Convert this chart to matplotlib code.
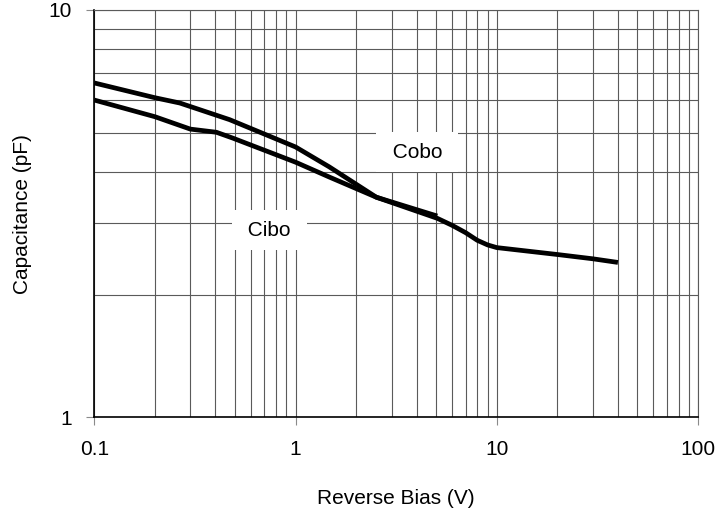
import matplotlib.pyplot as plt
from matplotlib.ticker import FixedLocator, NullFormatter, FuncFormatter

plt.rcParams['font.family'] = ['Liberation Sans', 'DejaVu Sans']

# Capacitance vs reverse bias
cobo_v = [0.1, 0.2, 0.266, 0.47, 1.0, 1.47, 2.52, 5.06, 6.0, 7.0, 8.0, 9.0, 10.0, 20.0, 30.0, 40.0]
cobo_pf = [6.62, 6.09, 5.91, 5.38, 4.61, 4.12, 3.47, 3.08, 2.96, 2.84, 2.72, 2.65, 2.61, 2.51, 2.45, 2.40]

cibo_v = [0.1, 0.2, 0.3, 0.404, 0.486, 1.0, 1.47, 2.52, 5.06]
cibo_pf = [6.01, 5.47, 5.10, 5.01, 4.85, 4.23, 3.89, 3.47, 3.12]

x_ticks = [0.1, 1, 10, 100]
y_ticks = [1, 10]

fig = plt.figure(figsize=(7.19, 5.15), dpi=100)
ax = fig.add_axes([0.1312, 0.1897, 0.8396, 0.7909])

ax.plot(cobo_v, cobo_pf, color="black", lw=3.4, solid_capstyle="butt", zorder=3)
ax.plot(cibo_v, cibo_pf, color="black", lw=3.4, solid_capstyle="butt", zorder=3)

ax.set_xscale("log")
ax.set_yscale("log")
ax.set_xlim(0.1, 100)
ax.set_ylim(1, 10)

ax.xaxis.set_major_locator(FixedLocator(x_ticks))
ax.yaxis.set_major_locator(FixedLocator(y_ticks))
fmt = FuncFormatter(lambda v, p: "%g" % v)
ax.xaxis.set_major_formatter(fmt)
ax.yaxis.set_major_formatter(fmt)
ax.xaxis.set_minor_formatter(NullFormatter())
ax.yaxis.set_minor_formatter(NullFormatter())

ax.grid(True, which="both", color="#5a5a5a", lw=0.8, zorder=1)
ax.tick_params(which="major", length=6, width=0.8, color="#8a8a8a", labelsize=15, pad=10)
ax.tick_params(which="minor", length=0)

for side in ["top", "right"]:
    ax.spines[side].set_color("#5a5a5a")
    ax.spines[side].set_linewidth(0.8)
for side in ["left", "bottom"]:
    ax.spines[side].set_color("black")
    ax.spines[side].set_linewidth(1.2)

box = dict(boxstyle="square,pad=0.5", fc="white", ec="none")
ax.text(4.03, 4.48, " Cobo ", ha="center", va="center", fontsize=15, bbox=box, zorder=2)
ax.text(0.743, 2.88, " Cibo ", ha="center", va="center", fontsize=15, bbox=box, zorder=2)

ax.set_xlabel("Reverse Bias (V)", fontsize=15, labelpad=22)
ax.set_ylabel("Capacitance (pF)", fontsize=15, labelpad=12)

plt.savefig("out.png", dpi=100)
